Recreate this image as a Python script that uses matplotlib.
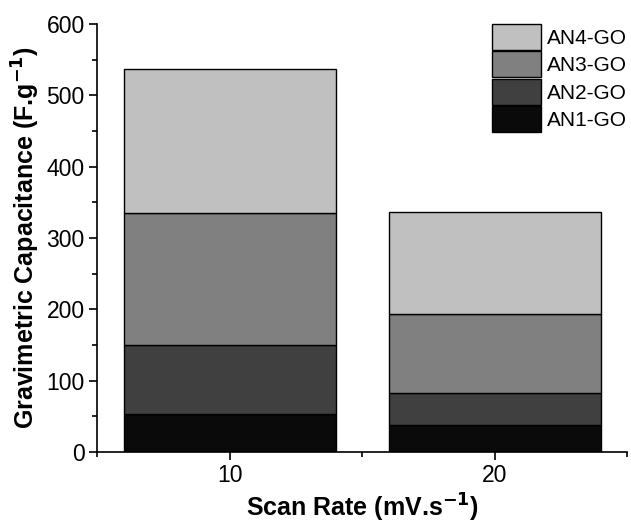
import matplotlib
matplotlib.use("Agg")
import matplotlib.pyplot as plt
from matplotlib.ticker import MultipleLocator

plt.rcParams['font.family'] = ['Liberation Sans', 'DejaVu Sans']

scan_rates = [10, 20]
an1 = [53.5, 38]
an2 = [96.5, 44]
an3 = [185, 111.5]
an4 = [202, 142.5]
labels = ['AN1-GO', 'AN2-GO', 'AN3-GO', 'AN4-GO']
colors = ['#0a0a0a', '#404040', '#808080', '#c0c0c0']

fig = plt.figure(figsize=(6.31, 5.23), dpi=100)
ax = fig.add_axes([0.154, 0.136, 0.84, 0.818])

bottom = [0, 0]
for vals, lab, col in zip([an1, an2, an3, an4], labels, colors):
    ax.bar(scan_rates, vals, width=8, bottom=bottom, color=col,
           edgecolor='black', linewidth=1.0, label=lab)
    bottom = [b + v for b, v in zip(bottom, vals)]

ax.set_xlim(5, 25)
ax.set_ylim(0, 600)
ax.set_xticks([10, 20])
ax.xaxis.set_minor_locator(MultipleLocator(5))
ax.yaxis.set_major_locator(MultipleLocator(100))
ax.yaxis.set_minor_locator(MultipleLocator(50))
ax.tick_params(which='major', direction='out', length=6, width=1.2, labelsize=16.5,
               colors='black', pad=3)
ax.tick_params(which='minor', direction='out', length=3.5, width=1.2)
for s in ['top', 'right']:
    ax.spines[s].set_visible(False)
for s in ['left', 'bottom']:
    ax.spines[s].set_linewidth(1.2)

ax.set_xlabel(r'Scan Rate (mV.s$^{\mathbf{-1}}$)', fontsize=18, fontweight='bold', labelpad=3)
ax.set_ylabel(r'Gravimetric Capacitance (F.g$^{\mathbf{-1}}$)', fontsize=18, fontweight='bold',
              labelpad=3)

handles, labs = ax.get_legend_handles_labels()
leg = ax.legend(handles[::-1], labs[::-1], loc='upper left', bbox_to_anchor=(0.745, 1.0),
                frameon=False, fontsize=15, handlelength=2.35, handleheight=1.55,
                handletextpad=0.3, labelspacing=0.06, borderaxespad=0.0, borderpad=0.0)

fig.savefig('out.png', dpi=100)
